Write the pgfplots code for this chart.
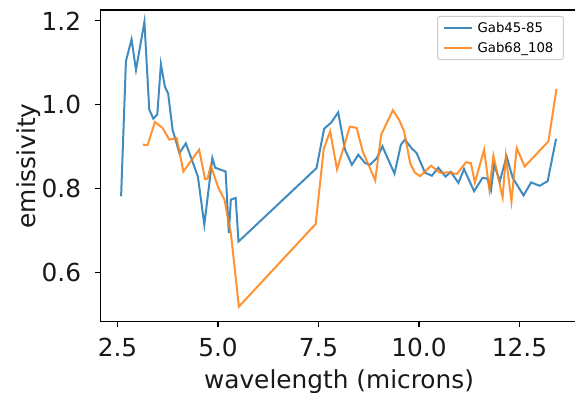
\documentclass[border=0pt]{standalone}
\usepackage{fontspec}
\setmainfont{DejaVu Sans}
\usepackage{pgfplots}
\pgfplotsset{compat=1.18}
\definecolor{mplblue}{RGB}{31,119,180}
\definecolor{mplorange}{RGB}{255,127,14}
\begin{document}
\begin{tikzpicture}
\begin{axis}[
  scale only axis, width=477.6pt, height=311.7pt,
  xmin=2.07, xmax=13.95, ymin=0.483, ymax=1.226,
  xtick={2.5,5,7.5,10,12.5}, xticklabels={2.5,5.0,7.5,10.0,12.5},
  ytick={0.6,0.8,1.0,1.2}, yticklabels={0.6,0.8,1.0,1.2},
  /pgf/number format/assume math mode=true,
  tick align=outside, major tick length=4.9pt,
  tick style={black, line width=1.1pt},
  xtick pos=lower, ytick pos=left,
  axis line style={black, line width=1.1pt},
  ticklabel style={font=\fontsize{24.8}{29}\selectfont, text=black!90},
  xticklabel style={anchor=base, inner sep=0pt, yshift=-30.3pt},
  yticklabel style={anchor=east, inner sep=0pt, xshift=-14pt},
  label style={font=\fontsize{24.8}{29}\selectfont, text=black!90},
  xlabel={wavelength (microns)},
  ylabel={emissivity},
  xlabel style={at={(axis description cs:0.5,-0.2143)}, anchor=base},
  ylabel style={at={(axis description cs:-0.1361,0.5)}, anchor=base},
  legend style={at={(axis description cs:0.971,0.981)}, anchor=north east,
    font=\fontsize{13.3}{15}\selectfont, draw=black!20, line width=1pt,
    rounded corners=2.5pt, fill=white, fill opacity=0.8, text opacity=1,
    inner xsep=5pt, inner ysep=5pt, row sep=6pt,
    nodes={inner xsep=5pt, inner ysep=1pt}},
  legend cell align=left,
  legend image code/.code={\draw[#1] (0pt,0pt) -- (28pt,0pt);},
]
\addplot[mplblue, line width=2pt, opacity=0.85] coordinates {
(2.59,0.782) (2.71,1.104) (2.85,1.156) (2.96,1.083) (3.17,1.198) (3.29,0.989)
(3.39,0.967) (3.49,0.977) (3.58,1.097) (3.68,1.043) (3.76,1.027) (3.87,0.941)
(4.04,0.885) (4.20,0.908) (4.35,0.869) (4.50,0.829) (4.66,0.714) (4.86,0.873)
(4.93,0.850) (5.19,0.841) (5.27,0.694) (5.32,0.774) (5.44,0.778) (5.51,0.674)
(7.45,0.849) (7.64,0.943) (7.81,0.957) (7.99,0.982) (8.16,0.893) (8.33,0.857)
(8.49,0.881) (8.66,0.861) (8.78,0.857) (8.95,0.873) (9.09,0.901) (9.39,0.836)
(9.55,0.905) (9.65,0.917) (9.82,0.896) (9.94,0.885) (10.15,0.838) (10.32,0.831)
(10.48,0.850) (10.66,0.829) (10.79,0.840) (10.98,0.814) (11.12,0.847) (11.37,0.794)
(11.58,0.826) (11.70,0.824) (11.79,0.796) (11.87,0.857) (12.01,0.818) (12.18,0.877)
(12.33,0.826) (12.60,0.784) (12.79,0.815) (13.00,0.807) (13.20,0.818) (13.41,0.919)
};
\addlegendentry{Gab45-85}
\addplot[mplorange, line width=2pt, opacity=0.85] coordinates {
(3.13,0.905) (3.25,0.904) (3.43,0.959) (3.62,0.945) (3.79,0.917) (3.97,0.921)
(4.14,0.841) (4.53,0.893) (4.68,0.823) (4.74,0.824) (4.82,0.855) (5.01,0.802)
(5.16,0.774) (5.32,0.694) (5.52,0.519) (7.43,0.716) (7.63,0.895) (7.79,0.937)
(7.96,0.846) (8.28,0.948) (8.45,0.945) (8.60,0.889) (8.91,0.820) (9.06,0.929)
(9.35,0.987) (9.50,0.965) (9.63,0.937) (9.78,0.861) (9.90,0.838) (10.03,0.830)
(10.30,0.855) (10.52,0.838) (10.73,0.839) (10.94,0.835) (11.17,0.863) (11.29,0.861)
(11.39,0.815) (11.62,0.893) (11.75,0.798) (11.85,0.879) (12.08,0.779) (12.16,0.877)
(12.30,0.770) (12.43,0.897) (12.63,0.853) (13.22,0.913) (13.42,1.038)
};
\addlegendentry{Gab68\_108}
\end{axis}
\pgfresetboundingbox
\path[use as bounding box] (-100.2pt,-71.3pt) rectangle (474.8pt,321.7pt);
\end{tikzpicture}
\end{document}
